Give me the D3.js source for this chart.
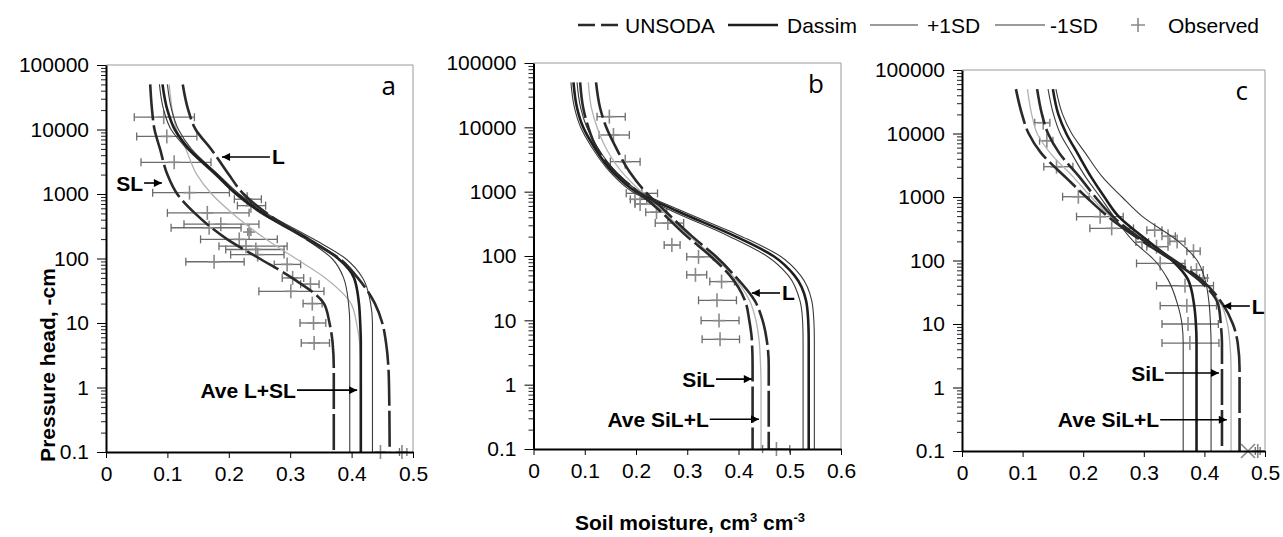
<!DOCTYPE html>
<html><head><meta charset="utf-8">
<script src="https://cdn.jsdelivr.net/npm/d3@7"></script>
<style>
body{margin:0;background:#fff;}
svg{display:block;font-family:"Liberation Sans",Arial,sans-serif;}
</style></head><body>
<svg id="chart" width="1283" height="537"></svg>
<script>
// ---------- DATA ----------
// pressure head levels (-cm) at which each retention curve was read
const levels = [50000,20000,10000,5000,2000,1000,500,200,100,50,20,10,5,2,1,0.1];

// Panel a : soil moisture (cm3 cm-3) at each level
const aUnsodaSL = [0.072,0.075,0.079,0.088,0.100,0.116,0.145,0.197,0.250,0.303,0.355,0.364,0.369,0.371,0.371,0.371];
const aUnsodaL  = [0.125,0.134,0.146,0.171,0.200,0.224,0.262,0.327,0.380,0.410,0.438,0.450,0.456,0.460,0.461,0.462];
const aDassim   = [0.092,0.100,0.112,0.135,0.180,0.213,0.256,0.330,0.378,0.404,0.412,0.414,0.415,0.415,0.415,0.415];
const aMinus1SD = [0.087,0.094,0.106,0.132,0.177,0.210,0.252,0.325,0.368,0.387,0.395,0.397,0.397,0.397,0.397,0.397];
const aPlus1SD  = [0.100,0.107,0.118,0.139,0.183,0.217,0.262,0.338,0.390,0.418,0.431,0.434,0.434,0.434,0.434,0.434];
const aAve      = [0.103,0.108,0.115,0.130,0.148,0.172,0.206,0.260,0.309,0.357,0.399,0.408,0.413,0.415,0.416,0.416];

// Panel b
const bUnsodaSiL = [0.091,0.097,0.107,0.122,0.160,0.203,0.247,0.300,0.345,0.383,0.413,0.421,0.426,0.4275,0.4275,0.4275];
const bUnsodaL   = [0.122,0.130,0.142,0.160,0.188,0.218,0.257,0.310,0.355,0.392,0.432,0.447,0.455,0.459,0.459,0.459];
const bDassim    = [0.078,0.085,0.097,0.118,0.155,0.200,0.280,0.395,0.468,0.509,0.532,0.536,0.537,0.537,0.537,0.537];
const bMinus1SD  = [0.073,0.080,0.092,0.113,0.150,0.193,0.270,0.383,0.455,0.497,0.520,0.525,0.526,0.526,0.526,0.526];
const bPlus1SD   = [0.085,0.092,0.104,0.124,0.162,0.207,0.290,0.407,0.481,0.521,0.543,0.547,0.548,0.548,0.548,0.548];
const bAve       = [0.107,0.113,0.124,0.140,0.173,0.210,0.252,0.305,0.350,0.388,0.422,0.434,0.440,0.443,0.444,0.444];

// Panel c
const cUnsodaSiL = [0.089,0.099,0.110,0.130,0.172,0.205,0.240,0.298,0.347,0.390,0.423,0.427,0.429,0.429,0.429,0.429];
const cUnsodaL   = [0.124,0.132,0.142,0.160,0.195,0.220,0.248,0.302,0.351,0.395,0.431,0.447,0.455,0.458,0.458,0.458];
const cDassim    = [0.150,0.159,0.172,0.190,0.214,0.235,0.258,0.308,0.347,0.373,0.383,0.386,0.387,0.387,0.387,0.387];
const cMinus1SD  = [0.142,0.151,0.162,0.180,0.205,0.228,0.250,0.283,0.318,0.340,0.356,0.363,0.365,0.365,0.365,0.365];
const cPlus1SD   = [0.155,0.166,0.181,0.203,0.233,0.264,0.297,0.357,0.388,0.401,0.408,0.410,0.411,0.411,0.411,0.411];
const cAve       = [0.108,0.115,0.124,0.145,0.185,0.213,0.244,0.300,0.349,0.393,0.428,0.438,0.442,0.444,0.444,0.444];

// Observed: [soil moisture, pressure head, bar low, bar high]
const obsA = [
  [0.094,15500,0.046,0.144],[0.099,7800,0.050,0.148],[0.111,3100,0.057,0.171],
  [0.136,1050,0.076,0.201],[0.230,830,0.209,0.253],[0.236,660,0.214,0.260],
  [0.165,510,0.100,0.233],[0.187,340,0.127,0.249],[0.168,300,0.106,0.220],
  [0.233,257,0.231,0.236],[0.217,198,0.154,0.279],[0.228,155,0.184,0.295],
  [0.244,138,0.195,0.290],[0.247,115,0.203,0.290],[0.176,89,0.130,0.225],
  [0.295,81,0.274,0.317],[0.304,50,0.287,0.322],[0.333,40,0.317,0.347],
  [0.301,31,0.249,0.355],[0.336,20,0.321,0.352],[0.338,10,0.316,0.358],
  [0.339,4.9,0.318,0.364],[0.447,0.1,0.447,0.447],[0.482,0.1,0.478,0.490]
];
const obsB = [
  [0.148,14660,0.124,0.179],[0.156,7600,0.128,0.187],[0.179,2925,0.150,0.208],
  [0.2115,942,0.181,0.242],[0.198,760,0.189,0.221],[0.208,643,0.198,0.238],
  [0.240,480,0.219,0.260],[0.262,325,0.2375,0.293],[0.270,148,0.255,0.286],
  [0.322,97,0.299,0.351],[0.316,51,0.299,0.338],[0.367,40,0.344,0.392],
  [0.358,20.5,0.322,0.396],[0.362,9.9,0.327,0.401],[0.364,5.07,0.329,0.402],
  [0.474,0.1,0.447,0.500]
];
const obsC = [
  [0.134,14800,0.120,0.145],[0.140,7700,0.128,0.150],[0.156,3000,0.135,0.183],
  [0.192,1010,0.166,0.210],[0.228,490,0.189,0.266],[0.247,321,0.211,0.283],
  [0.318,300,0.305,0.330],[0.340,240,0.330,0.352],[0.355,200,0.343,0.368],
  [0.382,140,0.371,0.393],[0.297,195,0.287,0.308],[0.321,165,0.305,0.340],
  [0.327,90,0.288,0.368],[0.387,71,0.378,0.398],[0.398,53,0.392,0.405],
  [0.368,40,0.321,0.415],[0.371,19.4,0.327,0.420],[0.373,10,0.330,0.423],
  [0.376,5,0.330,0.424],[0.488,0.1,0.484,0.492]
];
const obsCcross = [[0.472,0.1]];

const xTicksA = [0,0.1,0.2,0.3,0.4,0.5];
const xTicksB = [0,0.1,0.2,0.3,0.4,0.5,0.6];
const xTicksC = [0,0.1,0.2,0.3,0.4,0.5];
const yTickValues = [0.1,1,10,100,1000,10000,100000];
const legendLabels = ["UNSODA","Dassim","+1SD","-1SD","Observed"];

// annotations: label, arrow tip and tail in data units
const notesA = [
  {text:"L", tip:[0.189,3750], tail:[0.267,3750], side:"start"},
  {text:"SL", tip:[0.091,1480], tail:[0.062,1480], side:"end"},
  {text:"Ave L+SL", tip:[0.409,0.91], tail:[0.311,0.91], side:"end"}
];
const notesB = [
  {text:"L", tip:[0.426,26.6], tail:[0.481,26.6], side:"start"},
  {text:"SiL", tip:[0.426,1.22], tail:[0.356,1.22], side:"end"},
  {text:"Ave SiL+L", tip:[0.440,0.29], tail:[0.344,0.29], side:"end"}
];
const notesC = [
  {text:"L", tip:[0.431,19.2], tail:[0.475,19.2], side:"start"},
  {text:"SiL", tip:[0.424,1.69], tail:[0.335,1.69], side:"end"},
  {text:"Ave SiL+L", tip:[0.437,0.31], tail:[0.327,0.31], side:"end"}
];

// ---------- STYLES ----------
const styles = {
  unsoda:{stroke:"#2a2a2a", width:2.6, dash:"36,5"},
  dassim:{stroke:"#1e1e1e", width:2.6, dash:null},
  sd:{stroke:"#3a3a3a", width:1.1, dash:null},
  ave:{stroke:"#b2b2b2", width:1.3, dash:null}
};

const panels = [
  {letter:"a", x0:106, x1:413, yTop:65, yBot:452, xMax:0.5, xTicks:xTicksA,
   series:[["ave",aAve],["sd",aMinus1SD],["sd",aPlus1SD],["dassim",aDassim],["unsoda",aUnsodaSL],["unsoda",aUnsodaL]],
   obs:obsA, cross:[], notes:notesA},
  {letter:"b", x0:533.5, x1:841, yTop:63, yBot:449, xMax:0.6, xTicks:xTicksB,
   series:[["ave",bAve],["sd",bMinus1SD],["sd",bPlus1SD],["dassim",bDassim],["unsoda",bUnsodaSiL],["unsoda",bUnsodaL]],
   obs:obsB, cross:[], notes:notesB},
  {letter:"c", x0:962, x1:1265, yTop:70, yBot:451, xMax:0.5, xTicks:xTicksC,
   series:[["ave",cAve],["sd",cMinus1SD],["sd",cPlus1SD],["dassim",cDassim],["unsoda",cUnsodaSiL],["unsoda",cUnsodaL]],
   obs:obsC, cross:obsCcross, notes:notesC}
];

const svg = d3.select("#chart");
const defs = svg.append("defs");
defs.append("marker").attr("id","arrow").attr("viewBox","0 0 10 10")
  .attr("refX",10).attr("refY",5).attr("markerWidth",10).attr("markerHeight",8)
  .attr("markerUnits","userSpaceOnUse").attr("orient","auto")
  .append("path").attr("d","M0,0L10,5L0,10z").attr("fill","#000");

const minorTicks = [];
[0.1,1,10,100,1000,10000].forEach(d=>{ for(let k=2;k<=9;k++) minorTicks.push(d*k); });

panels.forEach(p=>{
  const x = d3.scaleLinear().domain([0,p.xMax]).range([p.x0,p.x1]);
  const y = d3.scaleLog().domain([0.1,100000]).range([p.yBot,p.yTop]);
  const g = svg.append("g");

  // frame (top & right)
  g.append("path").attr("d",`M${p.x0},${p.yTop}H${p.x1}V${p.yBot}`)
    .attr("fill","none").attr("stroke","#9a9a9a").attr("stroke-width",1);

  // observed
  const og = g.append("g");
  p.obs.forEach(o=>{
    const cx=x(o[0]), cy=y(o[1]), lo=x(o[2]), hi=x(o[3]);
    if(hi-lo>1){
      og.append("line").attr("x1",lo).attr("x2",hi).attr("y1",cy).attr("y2",cy)
        .attr("stroke","#6c6c6c").attr("stroke-width",1.3);
      [lo,hi].forEach(v=>og.append("line").attr("x1",v).attr("x2",v).attr("y1",cy-4).attr("y2",cy+4)
        .attr("stroke","#6c6c6c").attr("stroke-width",1.3));
    }
    og.append("line").attr("x1",cx-6).attr("x2",cx+6).attr("y1",cy).attr("y2",cy)
      .attr("stroke","#8a8a8a").attr("stroke-width",1.6);
    og.append("line").attr("x1",cx).attr("x2",cx).attr("y1",cy-7).attr("y2",cy+7)
      .attr("stroke","#8a8a8a").attr("stroke-width",1.6);
  });
  p.cross.forEach(o=>{
    const cx=x(o[0]), cy=y(o[1]);
    og.append("path").attr("d",`M${cx-7},${cy-7}L${cx+7},${cy+7}M${cx-7},${cy+7}L${cx+7},${cy-7}`)
      .attr("stroke","#8a8a8a").attr("stroke-width",1.6).attr("fill","none");
  });

  // curves
  const line = d3.line().x(d=>x(d[0])).y(d=>y(d[1])).curve(d3.curveMonotoneY);
  p.series.forEach(([type,vals])=>{
    const s = styles[type];
    const pts = vals.map((v,i)=>[v,levels[i]]);
    g.append("path").attr("d",line(pts)).attr("fill","none")
      .attr("stroke",s.stroke).attr("stroke-width",s.width)
      .attr("stroke-dasharray",s.dash).attr("stroke-linejoin","round");
  });

  // axes
  const yMinor = g.append("g").attr("transform",`translate(${p.x0},0)`)
    .call(d3.axisLeft(y).tickValues(minorTicks).tickSize(5).tickSizeOuter(0).tickFormat(""));
  yMinor.select(".domain").remove();
  yMinor.selectAll("line").attr("stroke","#222");
  const yMajor = g.append("g").attr("transform",`translate(${p.x0},0)`)
    .call(d3.axisLeft(y).tickValues(yTickValues).tickSize(9).tickSizeOuter(0).tickPadding(8)
      .tickFormat(d=>String(d)));
  yMajor.attr("font-size",21).attr("font-family","'Liberation Sans',Arial,sans-serif");
  yMajor.select(".domain").attr("stroke","#000").attr("stroke-width",2);
  yMajor.selectAll("text").attr("fill","#000");

  const xAxis = g.append("g").attr("transform",`translate(0,${p.yBot})`)
    .call(d3.axisBottom(x).tickValues(p.xTicks).tickSize(6).tickSizeOuter(0).tickPadding(8)
      .tickFormat(d=> d===0 ? "0" : d3.format(".1f")(d)));
  xAxis.attr("font-size",21).attr("font-family","'Liberation Sans',Arial,sans-serif");
  xAxis.select(".domain").attr("stroke","#000").attr("stroke-width",2);
  xAxis.selectAll("text").attr("fill","#000");

  // panel letter
  g.append("text").attr("x",x(p.xMax)-17).attr("y",p.yTop+30).attr("text-anchor","end")
    .attr("font-family","'Open Sans',sans-serif").attr("font-size",26).text(p.letter);

  // annotations
  p.notes.forEach(n=>{
    const ty=y(n.tip[1]), tx=x(n.tip[0]), sx=x(n.tail[0]);
    g.append("line").attr("x1",sx).attr("y1",ty).attr("x2",tx).attr("y2",ty)
      .attr("stroke","#000").attr("stroke-width",1.6).attr("marker-end","url(#arrow)");
    g.append("text").attr("x", n.side==="start" ? sx+2 : sx-1).attr("y",ty+7.5)
      .attr("text-anchor",n.side).attr("font-weight","bold").attr("font-size",21).text(n.text);
  });
});

// axis titles
svg.append("text").attr("transform","translate(55,365) rotate(-90)")
  .attr("text-anchor","middle").attr("font-weight","bold").attr("font-size",21)
  .text("Pressure head, -cm");
const xt = svg.append("text").attr("x",690).attr("y",530).attr("text-anchor","middle")
  .attr("font-weight","bold").attr("font-size",21);
xt.append("tspan").text("Soil moisture, cm");
xt.append("tspan").attr("font-size",13).attr("dy",-8).text("3");
xt.append("tspan").attr("dy",8).text(" cm");
xt.append("tspan").attr("font-size",13).attr("dy",-8).text("-3");

// legend
const lg = svg.append("g").attr("font-size",21);
const legY = 25;
const legendLayout = [
  {type:"unsoda", x1:578, x2:618, tx:625},
  {type:"dassim", x1:728, x2:778, tx:787},
  {type:"sdleg", x1:870, x2:918, tx:927},
  {type:"sdleg", x1:995, x2:1045, tx:1050},
  {type:"obs", x1:1131, x2:1145, tx:1168}
];
legendLayout.forEach((it,i)=>{
  if(it.type==="obs"){
    const cx=(it.x1+it.x2)/2;
    lg.append("path").attr("d",`M${cx-7},${legY}H${cx+7}M${cx},${legY-7}V${legY+7}`)
      .attr("stroke","#8a8a8a").attr("stroke-width",1.6);
  } else {
    const s = it.type==="sdleg" ? {stroke:"#7a7a7a",width:1.4,dash:null}
            : it.type==="unsoda" ? {stroke:"#2a2a2a",width:2.6,dash:"17,6"} : styles[it.type];
    lg.append("line").attr("x1",it.x1).attr("x2",it.x2).attr("y1",legY).attr("y2",legY)
      .attr("stroke",s.stroke).attr("stroke-width",s.width).attr("stroke-dasharray",s.dash);
  }
  lg.append("text").attr("x",it.tx).attr("y",legY+7.5).text(legendLabels[i]);
});
</script>
</body></html>
